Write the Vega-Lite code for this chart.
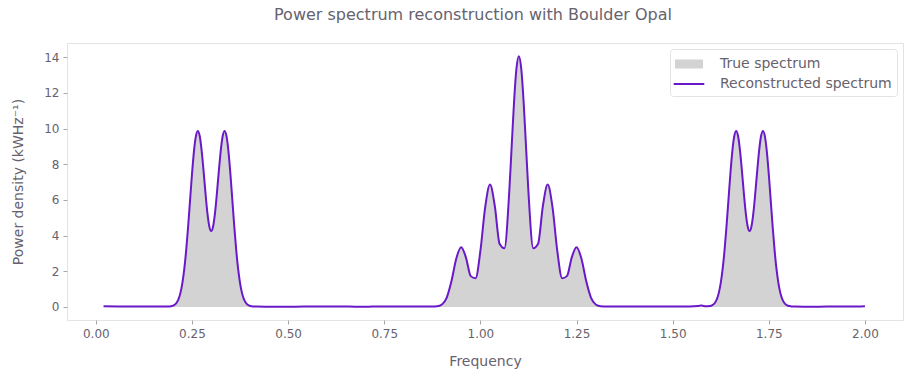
{
  "$schema": "https://vega.github.io/schema/vega-lite/v6.json",
  "width": 836,
  "height": 277,
  "autosize": "none",
  "padding": {"left": 67, "top": 43, "right": 7, "bottom": 56},
  "background": "white",
  "title": {
    "text": "Power spectrum reconstruction with Boulder Opal",
    "font": "DejaVu Sans",
    "fontSize": 16,
    "fontWeight": "normal",
    "color": "#66626e",
    "anchor": "middle",
    "dx": -12,
    "offset": 20
  },
  "config": {
    "font": "DejaVu Sans",
    "view": {"stroke": "#e3e3e3", "strokeWidth": 1},
    "axis": {
      "grid": false,
      "domain": false,
      "tickColor": "#a8a8a8",
      "tickSize": 4,
      "labelColor": "#66626e",
      "labelFont": "DejaVu Sans",
      "labelFontSize": 12,
      "labelOverlap": false,
      "titleColor": "#66626e",
      "titleFont": "DejaVu Sans",
      "titleFontSize": 14,
      "titleFontWeight": "normal"
    },
    "legend": {
      "labelFont": "DejaVu Sans",
      "labelFontSize": 14,
      "labelColor": "#66626e",
      "labelLimit": 300
    }
  },
  "data": {
    "values": [
      {"freq": 0.02, "truth": 0, "recon": 0.04},
      {"freq": 0.06, "truth": 0, "recon": 0.03},
      {"freq": 0.1, "truth": 0, "recon": 0.02},
      {"freq": 0.14, "truth": 0, "recon": 0.03},
      {"freq": 0.17, "truth": 0, "recon": 0.03},
      {"freq": 0.18, "truth": 0, "recon": 0.02},
      {"freq": 0.185, "truth": 0.003, "recon": 0.02},
      {"freq": 0.19, "truth": 0.01, "recon": 0.03},
      {"freq": 0.195, "truth": 0.02, "recon": 0.04},
      {"freq": 0.2, "truth": 0.05, "recon": 0.07},
      {"freq": 0.205, "truth": 0.11, "recon": 0.12},
      {"freq": 0.21, "truth": 0.23, "recon": 0.24},
      {"freq": 0.215, "truth": 0.43, "recon": 0.44},
      {"freq": 0.22, "truth": 0.78, "recon": 0.79},
      {"freq": 0.225, "truth": 1.33, "recon": 1.34},
      {"freq": 0.23, "truth": 2.13, "recon": 2.13},
      {"freq": 0.235, "truth": 3.2, "recon": 3.2},
      {"freq": 0.24, "truth": 4.51, "recon": 4.51},
      {"freq": 0.245, "truth": 5.98, "recon": 5.98},
      {"freq": 0.25, "truth": 7.44, "recon": 7.44},
      {"freq": 0.255, "truth": 8.7, "recon": 8.7},
      {"freq": 0.26, "truth": 9.55, "recon": 9.55},
      {"freq": 0.265, "truth": 9.87, "recon": 9.87},
      {"freq": 0.27, "truth": 9.6, "recon": 9.6},
      {"freq": 0.275, "truth": 8.8, "recon": 8.8},
      {"freq": 0.28, "truth": 7.66, "recon": 7.66},
      {"freq": 0.285, "truth": 6.41, "recon": 6.41},
      {"freq": 0.29, "truth": 5.29, "recon": 5.29},
      {"freq": 0.295, "truth": 4.53, "recon": 4.53},
      {"freq": 0.3, "truth": 4.26, "recon": 4.26},
      {"freq": 0.305, "truth": 4.53, "recon": 4.53},
      {"freq": 0.31, "truth": 5.29, "recon": 5.29},
      {"freq": 0.315, "truth": 6.41, "recon": 6.41},
      {"freq": 0.32, "truth": 7.66, "recon": 7.66},
      {"freq": 0.325, "truth": 8.8, "recon": 8.8},
      {"freq": 0.33, "truth": 9.6, "recon": 9.6},
      {"freq": 0.335, "truth": 9.87, "recon": 9.87},
      {"freq": 0.34, "truth": 9.55, "recon": 9.55},
      {"freq": 0.345, "truth": 8.7, "recon": 8.7},
      {"freq": 0.35, "truth": 7.44, "recon": 7.44},
      {"freq": 0.355, "truth": 5.98, "recon": 5.98},
      {"freq": 0.36, "truth": 4.51, "recon": 4.51},
      {"freq": 0.365, "truth": 3.2, "recon": 3.2},
      {"freq": 0.37, "truth": 2.13, "recon": 2.13},
      {"freq": 0.375, "truth": 1.33, "recon": 1.34},
      {"freq": 0.38, "truth": 0.78, "recon": 0.79},
      {"freq": 0.385, "truth": 0.43, "recon": 0.44},
      {"freq": 0.39, "truth": 0.23, "recon": 0.24},
      {"freq": 0.395, "truth": 0.11, "recon": 0.12},
      {"freq": 0.4, "truth": 0.05, "recon": 0.07},
      {"freq": 0.405, "truth": 0.02, "recon": 0.04},
      {"freq": 0.41, "truth": 0.01, "recon": 0.03},
      {"freq": 0.415, "truth": 0.003, "recon": 0.02},
      {"freq": 0.42, "truth": 0, "recon": 0.02},
      {"freq": 0.46, "truth": 0, "recon": 0.01},
      {"freq": 0.5, "truth": 0, "recon": 0.01},
      {"freq": 0.54, "truth": 0, "recon": 0.02},
      {"freq": 0.58, "truth": 0, "recon": 0.02},
      {"freq": 0.62, "truth": 0, "recon": 0.03},
      {"freq": 0.66, "truth": 0, "recon": 0.02},
      {"freq": 0.7, "truth": 0, "recon": 0.01},
      {"freq": 0.74, "truth": 0, "recon": 0.03},
      {"freq": 0.78, "truth": 0, "recon": 0.02},
      {"freq": 0.82, "truth": 0, "recon": 0.02},
      {"freq": 0.85, "truth": 0, "recon": 0.03},
      {"freq": 0.8625, "truth": 0, "recon": 0.03},
      {"freq": 0.875, "truth": 0.002, "recon": 0.03},
      {"freq": 0.8875, "truth": 0.02, "recon": 0.04},
      {"freq": 0.9, "truth": 0.13, "recon": 0.14},
      {"freq": 0.9125, "truth": 0.53, "recon": 0.53},
      {"freq": 0.925, "truth": 1.47, "recon": 1.47},
      {"freq": 0.9375, "truth": 2.73, "recon": 2.73},
      {"freq": 0.95, "truth": 3.35, "recon": 3.35},
      {"freq": 0.9625, "truth": 2.77, "recon": 2.77},
      {"freq": 0.975, "truth": 1.73, "recon": 1.73},
      {"freq": 0.9875, "truth": 1.61, "recon": 1.61},
      {"freq": 1.0, "truth": 3.14, "recon": 3.14},
      {"freq": 1.0125, "truth": 5.6, "recon": 5.6},
      {"freq": 1.025, "truth": 6.86, "recon": 6.86},
      {"freq": 1.0375, "truth": 5.66, "recon": 5.66},
      {"freq": 1.05, "truth": 3.54, "recon": 3.54},
      {"freq": 1.0625, "truth": 3.29, "recon": 3.29},
      {"freq": 1.075, "truth": 6.43, "recon": 6.43},
      {"freq": 1.08125, "truth": 8.96, "recon": 8.96},
      {"freq": 1.0875, "truth": 11.48, "recon": 11.48},
      {"freq": 1.09375, "truth": 13.36, "recon": 13.36},
      {"freq": 1.1, "truth": 14.06, "recon": 14.06},
      {"freq": 1.10625, "truth": 13.36, "recon": 13.36},
      {"freq": 1.1125, "truth": 11.48, "recon": 11.48},
      {"freq": 1.11875, "truth": 8.96, "recon": 8.96},
      {"freq": 1.125, "truth": 6.43, "recon": 6.43},
      {"freq": 1.1375, "truth": 3.29, "recon": 3.29},
      {"freq": 1.15, "truth": 3.54, "recon": 3.54},
      {"freq": 1.1625, "truth": 5.66, "recon": 5.66},
      {"freq": 1.175, "truth": 6.86, "recon": 6.86},
      {"freq": 1.1875, "truth": 5.6, "recon": 5.6},
      {"freq": 1.2, "truth": 3.14, "recon": 3.14},
      {"freq": 1.2125, "truth": 1.61, "recon": 1.61},
      {"freq": 1.225, "truth": 1.73, "recon": 1.73},
      {"freq": 1.2375, "truth": 2.77, "recon": 2.77},
      {"freq": 1.25, "truth": 3.35, "recon": 3.35},
      {"freq": 1.2625, "truth": 2.73, "recon": 2.73},
      {"freq": 1.275, "truth": 1.47, "recon": 1.47},
      {"freq": 1.2875, "truth": 0.53, "recon": 0.53},
      {"freq": 1.3, "truth": 0.13, "recon": 0.14},
      {"freq": 1.3125, "truth": 0.02, "recon": 0.04},
      {"freq": 1.325, "truth": 0.002, "recon": 0.03},
      {"freq": 1.3375, "truth": 0, "recon": 0.02},
      {"freq": 1.35, "truth": 0, "recon": 0.02},
      {"freq": 1.4, "truth": 0, "recon": 0.03},
      {"freq": 1.45, "truth": 0, "recon": 0.02},
      {"freq": 1.5, "truth": 0, "recon": 0.02},
      {"freq": 1.54, "truth": 0, "recon": 0.03},
      {"freq": 1.565, "truth": 0, "recon": 0.05},
      {"freq": 1.575, "truth": 0, "recon": 0.08},
      {"freq": 1.58, "truth": 0, "recon": 0.06},
      {"freq": 1.585, "truth": 0.003, "recon": 0.04},
      {"freq": 1.59, "truth": 0.01, "recon": 0.04},
      {"freq": 1.595, "truth": 0.02, "recon": 0.05},
      {"freq": 1.6, "truth": 0.05, "recon": 0.07},
      {"freq": 1.605, "truth": 0.11, "recon": 0.12},
      {"freq": 1.61, "truth": 0.23, "recon": 0.24},
      {"freq": 1.615, "truth": 0.43, "recon": 0.44},
      {"freq": 1.62, "truth": 0.78, "recon": 0.79},
      {"freq": 1.625, "truth": 1.33, "recon": 1.34},
      {"freq": 1.63, "truth": 2.13, "recon": 2.13},
      {"freq": 1.635, "truth": 3.2, "recon": 3.2},
      {"freq": 1.64, "truth": 4.51, "recon": 4.51},
      {"freq": 1.645, "truth": 5.98, "recon": 5.98},
      {"freq": 1.65, "truth": 7.44, "recon": 7.44},
      {"freq": 1.655, "truth": 8.7, "recon": 8.7},
      {"freq": 1.66, "truth": 9.55, "recon": 9.55},
      {"freq": 1.665, "truth": 9.87, "recon": 9.87},
      {"freq": 1.67, "truth": 9.6, "recon": 9.6},
      {"freq": 1.675, "truth": 8.8, "recon": 8.8},
      {"freq": 1.68, "truth": 7.66, "recon": 7.66},
      {"freq": 1.685, "truth": 6.41, "recon": 6.41},
      {"freq": 1.69, "truth": 5.29, "recon": 5.29},
      {"freq": 1.695, "truth": 4.53, "recon": 4.53},
      {"freq": 1.7, "truth": 4.26, "recon": 4.26},
      {"freq": 1.705, "truth": 4.53, "recon": 4.53},
      {"freq": 1.71, "truth": 5.29, "recon": 5.29},
      {"freq": 1.715, "truth": 6.41, "recon": 6.41},
      {"freq": 1.72, "truth": 7.66, "recon": 7.66},
      {"freq": 1.725, "truth": 8.8, "recon": 8.8},
      {"freq": 1.73, "truth": 9.6, "recon": 9.6},
      {"freq": 1.735, "truth": 9.87, "recon": 9.87},
      {"freq": 1.74, "truth": 9.55, "recon": 9.55},
      {"freq": 1.745, "truth": 8.7, "recon": 8.7},
      {"freq": 1.75, "truth": 7.44, "recon": 7.44},
      {"freq": 1.755, "truth": 5.98, "recon": 5.98},
      {"freq": 1.76, "truth": 4.51, "recon": 4.51},
      {"freq": 1.765, "truth": 3.2, "recon": 3.2},
      {"freq": 1.77, "truth": 2.13, "recon": 2.13},
      {"freq": 1.775, "truth": 1.33, "recon": 1.34},
      {"freq": 1.78, "truth": 0.78, "recon": 0.79},
      {"freq": 1.785, "truth": 0.43, "recon": 0.44},
      {"freq": 1.79, "truth": 0.23, "recon": 0.24},
      {"freq": 1.795, "truth": 0.11, "recon": 0.12},
      {"freq": 1.8, "truth": 0.05, "recon": 0.07},
      {"freq": 1.805, "truth": 0.02, "recon": 0.05},
      {"freq": 1.81, "truth": 0.01, "recon": 0.03},
      {"freq": 1.815, "truth": 0.003, "recon": 0.02},
      {"freq": 1.82, "truth": 0, "recon": 0.02},
      {"freq": 1.86, "truth": 0, "recon": 0.01},
      {"freq": 1.9, "truth": 0, "recon": 0.02},
      {"freq": 1.94, "truth": 0, "recon": 0.02},
      {"freq": 1.98, "truth": 0, "recon": 0.03},
      {"freq": 2.0, "truth": 0, "recon": 0.04}
    ]
  },
  "encoding": {
    "x": {
      "field": "freq",
      "type": "quantitative",
      "title": "Frequency",
      "scale": {"domain": [-0.075, 2.099], "nice": false, "zero": false},
      "axis": {"values": [0, 0.25, 0.5, 0.75, 1, 1.25, 1.5, 1.75, 2], "format": ".2f", "labelPadding": 4, "titlePadding": 15}
    }
  },
  "layer": [
    {
      "mark": {"type": "area", "interpolate": "monotone", "opacity": 1},
      "encoding": {
        "y": {
          "field": "truth",
          "type": "quantitative",
          "title": "Power density (kWHz⁻¹)",
          "scale": {"domain": [-0.73, 14.8], "nice": false, "zero": false},
          "axis": {"values": [0, 2, 4, 6, 8, 10, 12, 14], "tickCount": 8, "labelPadding": 4, "titlePadding": 18}
        },
        "y2": {"datum": 0},
        "fill": {
          "datum": "True spectrum",
          "type": "nominal",
          "scale": {"domain": ["True spectrum", "Reconstructed spectrum"], "range": ["#d3d3d3", "#6A19C8"]},
          "legend": {
            "title": null,
            "orient": "top-right",
            "offset": 6,
            "padding": 5,
            "strokeColor": "#e3e3e3",
            "fillColor": "white",
            "cornerRadius": 3,
            "rowPadding": 2,
            "symbolSize": 324,
            "symbolOffset": 4,
            "labelOffset": 21,
            "symbolType": "M-1.56,-0.5H1.56V0.5H-1.56Z",
            "encoding": {
              "symbols": {
                "shape": {"condition": {"test": "datum.value === 'Reconstructed spectrum'", "value": "M-1.7,-0.11H1.7V0.11H-1.7Z"}, "value": "M-1.56,-0.5H1.56V0.5H-1.56Z"},
                "stroke": {"value": "transparent"}
              }
            },
            "encode": {
              "symbols": {
                "update": {
                  "shape": {"condition": {"test": "datum.value === 'Reconstructed spectrum'", "value": "M-1.7,-0.11H1.7V0.11H-1.7Z"}, "value": "M-1.56,-0.5H1.56V0.5H-1.56Z"},
                  "stroke": {"value": "transparent"}
                },
                "shape": {"condition": {"test": "datum.value === 'Reconstructed spectrum'", "value": "M-1.7,-0.11H1.7V0.11H-1.7Z"}, "value": "M-1.56,-0.5H1.56V0.5H-1.56Z"},
                "stroke": {"value": "transparent"}
              }
            }
          }
        }
      }
    },
    {
      "mark": {"type": "line", "interpolate": "monotone", "strokeWidth": 2, "stroke": "#6A19C8"},
      "encoding": {
        "y": {
          "field": "recon",
          "type": "quantitative",
          "title": "Power density (kWHz⁻¹)",
          "axis": {"values": [0, 2, 4, 6, 8, 10, 12, 14], "tickCount": 8, "labelPadding": 4, "titlePadding": 18}
        }
      }
    }
  ]
}
